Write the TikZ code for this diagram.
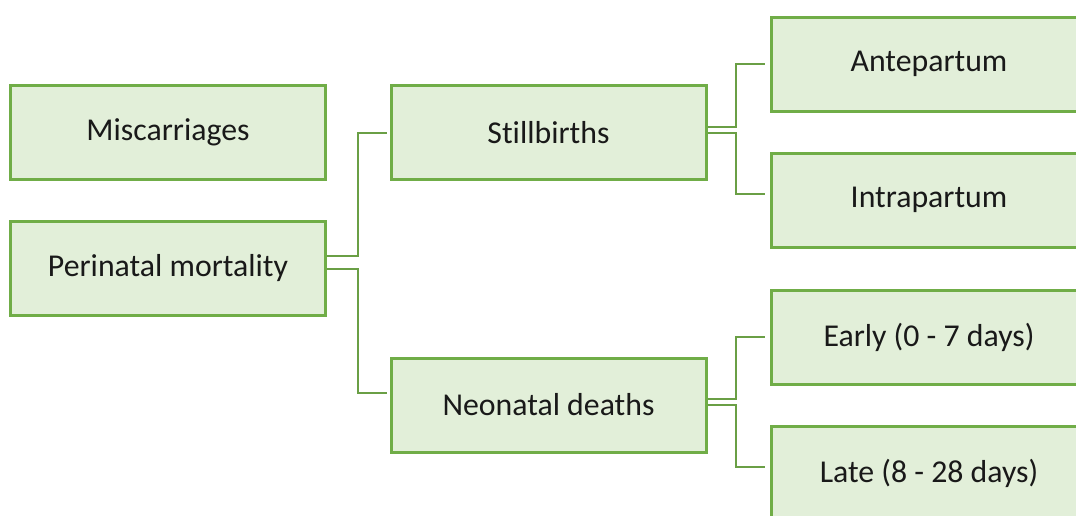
\documentclass[tikz,border=0pt]{standalone}
\usepackage{fontspec}
\setmainfont{Carlito}[Ligatures=NoCommon]
\usetikzlibrary{calc}
\definecolor{boxfill}{HTML}{E2EFD9}
\definecolor{boxline}{HTML}{70AD47}
\definecolor{wire}{HTML}{6A9F45}
\begin{document}
\begin{tikzpicture}[x=1pt,y=-1pt,
  box/.style={draw=boxline,fill=boxfill,line width=3pt,inner sep=0pt,
    minimum width=315pt,minimum height=94pt,
    font=\fontsize{31.8}{38}\selectfont,text=black!90},
  link/.style={draw=wire,line width=2.2pt}]
\useasboundingbox (0,0) rectangle (1076,515);
\clip (0,0) rectangle (1076,515);

% first column
\node[box] (mis) at (168,132.5) {Miscarriages};
\node[box] (pm)  at (168,268.5) {Perinatal mortality};

% second column
\node[box] (sb) at (548.5,132.5) {Stillbirths};
\node[box] (nd) at (548.5,405)   {Neonatal deaths};

% third column (runs past the edges)
\node[box] (ap) at (929,64)  {Antepartum};
\node[box] (ip) at (929,200) {Intrapartum};
\node[box] (ea) at (929,337) {Early (0 - 7 days)};
\node[box] (la) at (929,473) {Late (8 - 28 days)};

% connectors
\coordinate (pmA) at ($(pm.east)+(0,-12.5)$);
\coordinate (pmB) at ($(pm.east)+(0,0.5)$);
\draw[link] (pmA) -- (358,256) |- ($(sb.west)+(-3,0.5)$);
\draw[link] (pmB) -- (358,269) |- ($(nd.west)+(-3,-12)$);

\coordinate (sbA) at ($(sb.east)+(0,-5.5)$);
\coordinate (sbB) at ($(sb.east)+(0,0.5)$);
\draw[link] (sbA) -- (736,127) |- ($(ap.west)+(-5,0)$);
\draw[link] (sbB) -- (736,133) |- ($(ip.west)+(-5,-6)$);

\coordinate (ndA) at ($(nd.east)+(0,-6)$);
\coordinate (ndB) at (nd.east);
\draw[link] (ndA) -- (736,399) |- ($(ea.west)+(-5,0)$);
\draw[link] (ndB) -- (736,405) |- ($(la.west)+(-5,-6)$);
\end{tikzpicture}
\end{document}
